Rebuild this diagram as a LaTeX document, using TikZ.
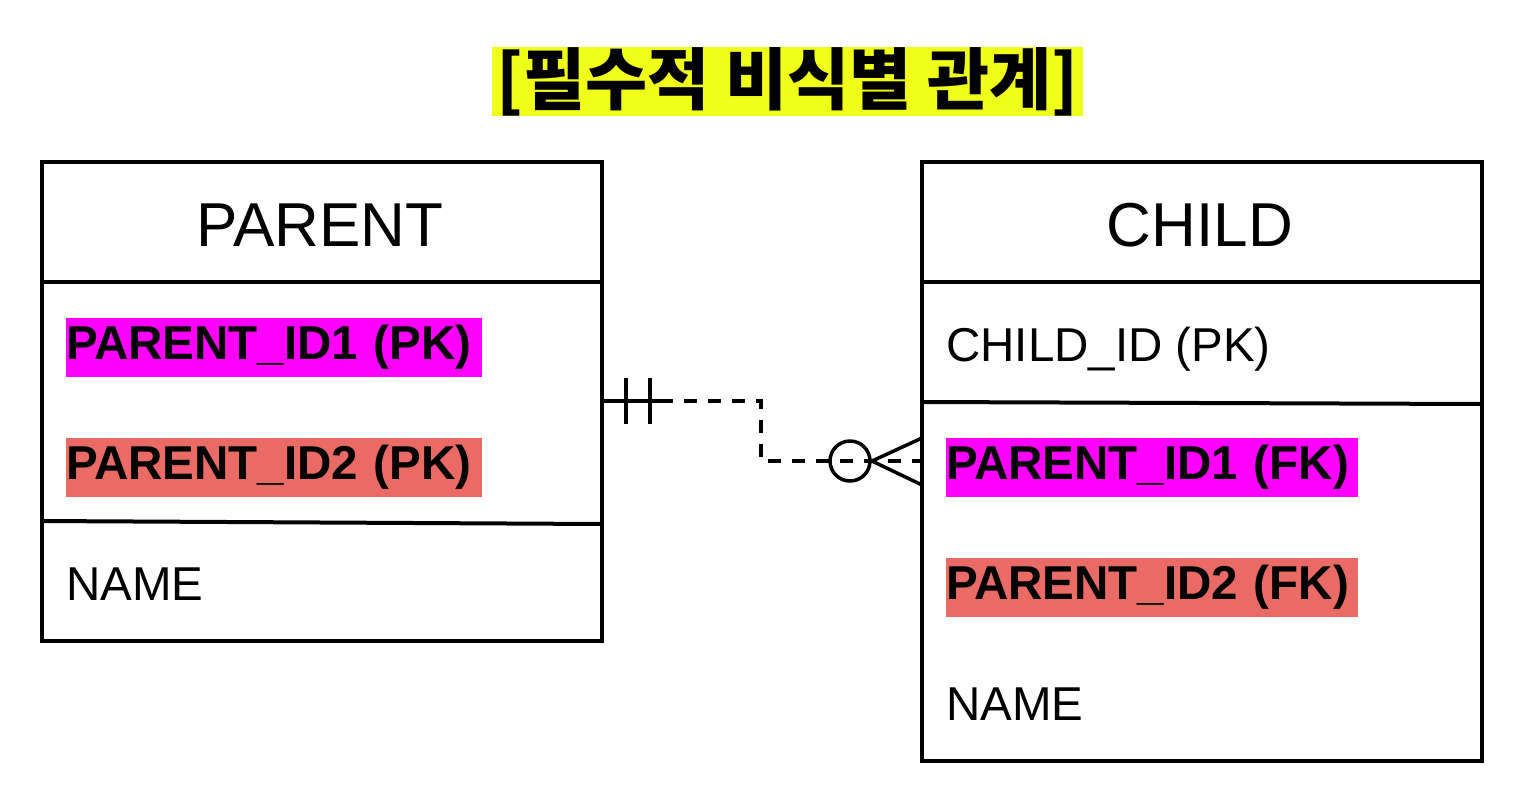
\documentclass[tikz,border=0pt]{standalone}
\usepackage{fontspec}
\setmainfont{Liberation Sans}
\newfontfamily\krfont{Noto Sans CJK KR}
\definecolor{titleyellow}{RGB}{240,255,26}
\definecolor{pkmagenta}{RGB}{255,0,255}
\definecolor{pksalmon}{RGB}{234,107,102}
\begin{document}
\begin{tikzpicture}[x=1pt,y=-1pt,
  ent/.style={draw, line width=4pt, inner sep=0pt, outer sep=0pt, anchor=north west, minimum width=560pt},
  sep/.style={line width=4pt},
  hdr/.style={inner sep=0pt, font=\fontsize{62}{70}\selectfont},
  fld/.style={inner sep=0pt, anchor=base west, font=\fontsize{47.5}{56}\selectfont},
  hl/.style={inner xsep=0pt, inner ysep=0pt, outer sep=0pt, anchor=north west, minimum height=59pt, align=left,
    font=\fontsize{47.5}{56}\selectfont\bfseries},
  rel/.style={line width=3.5pt, dash pattern=on 13pt off 11pt},
  relmark/.style={line width=3.5pt}
]
\useasboundingbox (0,0) rectangle (1528,804);
% title
\node[fill=titleyellow, inner sep=0pt, minimum width=591pt, minimum height=69pt,
      font=\krfont\bfseries\fontsize{67.5}{72}\selectfont] (title) at (787.5,81.5) {[필수적 비식별 관계]};
% PARENT entity
\node[ent, minimum height=479pt] (P) at (42,162) {};
\node[hdr] (Ph) at (320,225) {PARENT};
\draw[sep] (42,282) -- (602,282);
\node[hl, fill=pkmagenta, text width=416pt] (P1) at (66,318) {PARENT\_ID1 (PK)};
\node[hl, fill=pksalmon, text width=416pt] (P2) at (66,438) {PARENT\_ID2 (PK)};
\draw[sep] (42,521) -- (602,524);
\node[fld] (Pn) at (66,600) {NAME};
% CHILD entity
\node[ent, minimum height=599pt] (C) at (922,162) {};
\node[hdr] (Ch) at (1200,225) {CHILD};
\draw[sep] (922,282) -- (1482,282);
\node[fld] (Cid) at (946,361) {CHILD\_ID (PK)};
\draw[sep] (922,402) -- (1482,404);
\node[hl, fill=pkmagenta, text width=412pt] (C1) at (946,438) {PARENT\_ID1 (FK)};
\node[hl, fill=pksalmon, text width=412pt] (C2) at (946,558) {PARENT\_ID2 (FK)};
\node[fld] (Cn) at (946,720) {NAME};
% relationship
\coordinate (rs) at (P.east |- 0,401);
\coordinate (re) at (C.west |- 0,461);
\coordinate (rb1) at (761,401);
\coordinate (rb2) at (761,461);
\draw[rel] (rs) ++(58,0) -- (rb1) -- (rb2) -- (re);
\draw[relmark] (rs) -- ++(58,0);
\draw[relmark] (626,378) -- (626,424);
\draw[relmark] (650,378) -- (650,424);
\node[draw, circle, line width=3.5pt, minimum size=40pt, inner sep=0pt] (zero) at (850,461) {};
\coordinate (tip) at (872,461);
\draw[relmark] (922,438) -- (tip) -- (922,485);
\end{tikzpicture}
\end{document}
